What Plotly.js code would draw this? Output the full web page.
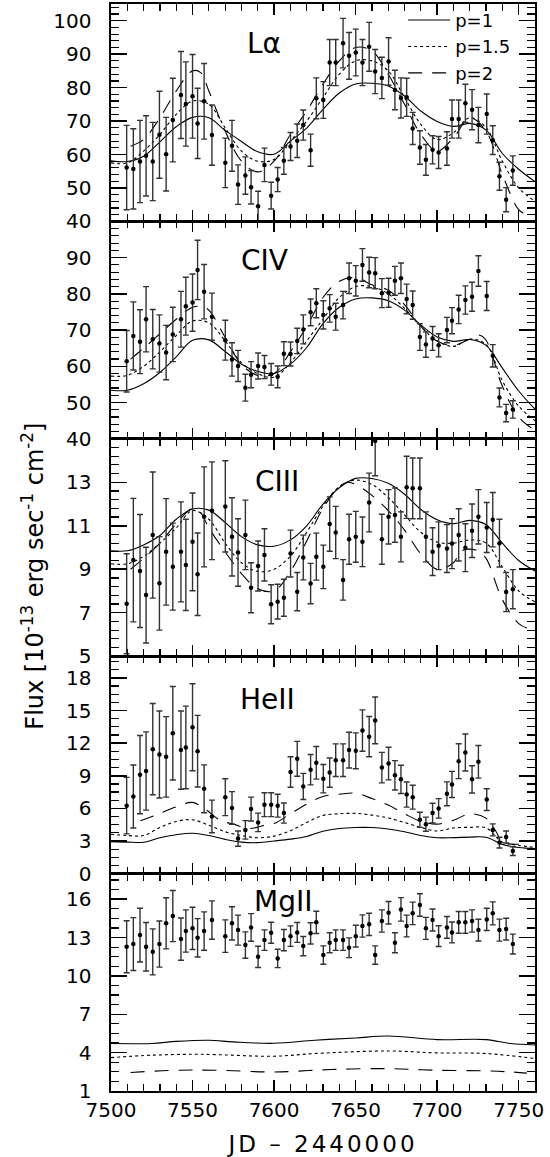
<!DOCTYPE html>
<html><head><meta charset="utf-8">
<script src="https://cdn.plot.ly/plotly-3.0.1.min.js"></script>
<style>body{margin:0;background:#fff} #chart text.x5title{letter-spacing:3px !important}</style>
</head><body><div id="chart" style="width:550px;height:1157px"></div>
<script>
// Observation dates (JD - 2440000)
const jd = [7509.6,7513.7,7517.8,7521.5,7525.6,7529.7,7533.8,7537.9,7542.9,7545.9,7550.0,7553.1,7557.1,7561.9,7570.1,7574.2,7577.9,7582.4,7585.9,7590.2,7594.1,7598.2,7602.2,7606.0,7610.1,7614.2,7617.9,7622.4,7625.9,7630.2,7634.1,7637.8,7642.3,7646.0,7650.1,7654.2,7658.3,7662.0,7666.1,7670.2,7674.1,7677.8,7681.3,7685.0,7689.4,7693.1,7697.2,7700.9,7706.0,7709.1,7713.2,7717.3,7721.4,7725.3,7730.4,7734.1,7738.2,7742.3,7746.4];

const lyaFlux = [56.1,55.7,57.9,59.6,57.9,65.9,60.1,70.3,77.8,75.1,77.4,69.3,75.9,65.8,57.5,62.6,51.0,53.7,50.2,44.5,56.9,47.7,52.5,58.1,62.4,64.1,68.8,61.3,76.8,76.3,87.5,87.5,93.3,89.5,90.5,87.5,92.2,84.8,82.9,87.8,79.3,76.9,77.1,67.8,62.1,58.4,61.4,60.6,61.8,70.6,70.6,75.3,73.4,68.8,72.1,64.3,53.5,46.5,55.2];
const lyaErr = [12.6,12.0,12.3,12.0,11.7,13.0,11.0,12.5,13.0,12.6,12.5,10.5,11.3,9.0,7.4,7.6,5.9,5.6,5.0,4.5,5.0,4.0,3.6,4.0,4.2,5.0,4.5,4.8,6.1,5.5,6.9,6.9,7.4,7.0,7.0,6.9,7.3,6.6,6.2,7.1,5.9,6.0,5.7,4.8,5.0,4.6,4.2,4.8,5.0,5.7,5.7,5.7,6.0,5.3,6.0,4.3,4.2,3.6,4.4];

const civFlux = [61.4,68.4,66.8,73.0,67.5,66.3,63.8,68.8,73.0,76.6,77.6,86.6,80.6,73.7,67.2,61.9,60.1,54.1,57.7,60.1,59.8,57.8,57.1,63.5,63.4,67.0,70.2,74.9,77.4,74.2,76.0,73.7,76.9,84.3,83.6,88.0,85.9,85.7,80.2,80.3,83.6,84.3,78.6,76.9,68.1,66.0,67.7,65.8,70.0,72.6,75.7,78.3,79.2,86.3,79.4,62.9,51.4,47.1,48.1];
const civErr = [8.5,9.4,8.8,9.0,8.2,7.9,7.5,7.5,7.7,8.0,7.9,8.2,7.5,6.5,5.5,4.6,4.3,3.7,3.6,3.6,3.2,3.0,3.0,3.3,3.3,3.5,4.0,3.7,4.0,3.9,3.8,3.7,3.8,4.2,4.2,4.5,4.2,4.3,4.0,4.0,4.0,4.2,4.1,3.9,3.7,3.5,3.3,3.2,3.5,3.6,3.9,3.9,4.0,4.2,4.0,3.1,2.6,2.4,2.4];

const ciiiFlux = [7.41,9.42,8.92,7.81,10.57,8.35,9.8,9.12,9.8,9.2,10.26,8.77,11.41,11.69,11.89,10.49,9.77,10.58,8.15,9.15,9.66,7.39,7.51,7.69,9.72,7.97,9.54,8.34,9.58,9.11,11.08,10.69,8.51,10.38,10.49,10.26,12.07,14.9,10.38,11.41,11.49,10.49,12.77,12.72,12.72,10.49,9.81,10.08,9.95,10.18,10.58,9.99,10.77,11.41,10.92,11.28,10.2,7.95,8.08];
const ciiiErr = [2.3,2.84,2.6,2.2,2.9,2.15,2.45,2.0,2.3,2.1,2.25,1.9,2.3,2.25,2.1,1.8,1.55,1.6,1.15,1.15,1.2,0.9,0.8,0.85,1.08,0.88,1.03,0.93,1.08,1.0,1.25,1.2,0.93,1.15,1.17,1.14,1.35,1.6,1.15,1.25,1.25,1.15,1.43,1.4,1.4,1.15,1.1,1.1,1.1,1.15,1.2,1.1,1.23,1.25,1.15,1.25,1.1,0.9,0.9];

const heiiFlux = [6.25,7.09,9.1,9.44,11.45,10.96,10.74,12.91,11.36,11.61,13.46,11.26,7.8,5.26,7.03,6.04,3.22,4.02,5.94,4.71,6.34,6.34,6.25,5.57,9.35,10.56,8.02,9.56,10.19,8.73,9.29,10.43,10.43,11.36,11.3,13.16,12.6,14.09,9.75,10.12,9.04,8.67,7.27,7.03,4.95,4.55,5.57,6.0,7.34,8.2,10.34,11.14,8.67,10.28,6.81,4.02,2.85,3.37,2.07];
const heiiErr = [2.6,2.9,3.6,3.6,4.2,4.0,3.7,4.3,3.6,3.8,4.0,3.3,2.2,1.5,1.7,1.5,0.7,0.85,1.1,0.85,1.1,1.1,1.05,0.93,1.4,1.6,1.2,1.4,1.5,1.3,1.35,1.5,1.5,1.65,1.65,1.9,1.85,2.15,1.4,1.5,1.35,1.3,1.15,1.1,0.7,0.65,0.9,0.9,1.1,1.2,1.6,1.7,1.25,1.5,1.0,0.55,0.5,0.55,0.4];

const mgiiFlux = [12.28,12.49,13.19,12.28,11.88,12.49,14.11,14.68,12.88,13.51,13.72,12.98,13.51,14.37,13.11,14.11,13.58,12.41,13.79,11.49,12.8,13.37,11.37,12.8,13.11,13.4,12.33,13.33,14.19,11.63,12.59,12.8,12.8,12.2,13.11,13.9,14.03,11.63,14.29,14.94,12.59,15.2,13.9,14.89,15.54,13.72,14.37,13.11,13.79,13.4,14.19,14.19,14.29,13.58,14.42,14.89,13.58,13.66,12.49];
const mgiiErr = [2.03,2.07,2.1,1.9,1.8,1.8,2.0,2.0,1.65,1.65,1.65,1.5,1.5,1.5,1.27,1.3,1.17,1.03,1.08,0.83,0.8,0.82,0.72,0.83,0.8,0.78,0.75,0.83,0.87,0.72,0.78,0.8,0.8,0.77,0.85,0.87,0.87,0.72,0.87,0.88,0.78,0.92,0.85,0.88,0.88,0.86,0.86,0.81,0.85,0.82,0.85,0.85,0.87,0.85,0.87,0.9,0.86,0.85,0.78];

// Model light curves
const modelJD = [7500,7510,7520,7530,7540,7550,7560,7570,7580,7590,7600,7610,7620,7630,7640,7650,7660,7670,7680,7690,7700,7710,7720,7730,7740,7750,7760];

const lyaP1  = [58.1,57.9,59.5,63.8,68.3,71.1,71.0,67.2,63.9,60.8,60.1,64.0,67.9,73.5,78.4,81.1,81.3,80.5,77.5,73.0,69.9,68.4,69.3,67.3,60.3,55.6,51.9];
const lyaP15 = [57.5,57.5,61,66,72,76,75,68,61,58,58.5,64,70,77,84,88,88,85,77,69,64.5,66.5,71,68,58,50,46];
const lyaP2x = [7512,7520,7530,7540,7550,7555,7560,7570,7580,7590,7600,7610,7620,7630,7640,7650,7660,7670,7680,7690,7700,7710,7720,7730,7740,7750,7755];
const lyaP2  = [62.5,64.5,71,79,85,84.5,79,67,58,54.8,58,66,73,81,88,92,91,84,75,66,61,65,71,67,54,43.5,42];

const civP1  = [53.4,53.4,55.2,58.3,62.6,67.2,67.3,64.1,60.6,58.6,58.0,60.6,65.2,71.8,76.3,78.6,78.9,78.1,75.5,71.4,68.1,66.9,67.4,65.8,59.5,53.2,48.2];
const civP15 = [57.3,57.5,60,64,68.5,72.5,72,67,61,58,57,61,67,73,79,82,82,80,76,71,67,65.5,67.5,66,56,49,45];
const civP2x = [7512,7520,7530,7540,7550,7556,7560,7570,7580,7590,7600,7610,7620,7630,7640,7650,7660,7670,7680,7690,7700,7710,7720,7726,7730,7740,7750,7760];
const civP2  = [62,65,69,73,76.3,76.5,75.5,68,60.5,57.5,58,64,71,79,83.5,84.5,82.5,81,77,71,67,65.8,67.5,68.6,67.2,54.5,46,42.3];

const ciiiP1  = [9.85,9.85,10.12,10.55,11.3,11.77,11.72,11.15,10.5,10.12,10.06,10.35,11.0,12.0,12.75,13.18,13.17,12.95,12.45,11.75,11.28,11.1,11.25,11.05,10.2,9.4,8.92];
const ciiiP15 = [9.25,9.25,9.6,10.2,10.9,11.7,11.3,10.2,9.3,8.9,9.0,9.6,10.7,11.9,12.8,13.1,12.9,12.3,11.5,10.7,10.25,10.2,10.35,10.2,9.1,8.0,7.5];
const ciiiP2x = [7512,7520,7530,7540,7550,7555,7560,7570,7580,7590,7600,7610,7620,7630,7640,7645,7650,7660,7670,7680,7690,7700,7710,7715,7725,7730,7740,7750,7755];
const ciiiP2  = [9.0,9.5,10.2,11.1,11.8,11.6,10.9,9.8,8.8,8.1,8.0,8.9,10.3,11.8,12.8,13.0,12.9,12.4,11.7,10.8,9.7,9.0,9.3,9.85,9.85,9.5,7.6,6.5,6.3];

const heiiP1  = [2.94,2.9,2.88,3.3,3.58,3.71,3.5,3.15,2.9,2.85,3.0,3.17,3.42,3.9,4.15,4.24,4.24,4.1,3.85,3.5,3.3,3.31,3.36,3.35,2.69,2.4,2.3];
const heiiP15 = [3.62,3.5,3.5,4.25,4.8,4.95,4.45,3.85,3.5,3.3,3.45,3.95,4.7,5.35,5.5,5.54,5.38,5.12,4.7,4.25,3.92,4.2,4.25,4.2,2.9,2.6,2.4];
const heiiP2x = [7518,7526,7540,7550,7558,7567,7575,7585,7593,7600,7610,7620,7630,7640,7650,7660,7670,7680,7690,7700,7710,7720,7730,7736,7740,7750];
const heiiP2  = [4.86,5.3,6.15,6.55,5.9,4.9,4.55,4.15,4.4,4.6,5.5,6.4,7.1,7.3,7.4,6.9,6.3,5.5,4.8,4.55,4.9,5.5,5.1,3.9,2.9,2.7];

const mgiiP1x = [7500,7525,7540,7560,7575,7600,7625,7650,7670,7700,7730,7745,7760];
const mgiiP1  = [4.71,4.72,4.88,4.97,4.84,4.73,4.97,5.15,5.3,5.02,5.02,4.71,4.6];
const mgiiP15x = [7500,7525,7555,7600,7625,7670,7700,7730,7760];
const mgiiP15  = [3.61,3.8,3.87,3.72,3.93,4.13,3.98,3.93,3.54];
const mgiiP2x = [7512,7540,7565,7600,7635,7670,7700,7730,7745,7755];
const mgiiP2  = [2.45,2.62,2.62,2.49,2.68,2.75,2.62,2.57,2.49,2.4];

// Panel setup
const lineNames = ['Lα','CIV','CIII','HeII','MgII'];
const yRanges = [[40,105],[40,100],[5,15],[0,20],[1,18]];
const yTicks = [[40,50,60,70,80,90,100],[40,50,60,70,80,90],[5,7,9,11,13],[0,3,6,9,12,15,18],[1,4,7,10,13,16]];
const yMinor = [2,2,0.4,0.75,0.75];
const fluxes = [lyaFlux,civFlux,ciiiFlux,heiiFlux,mgiiFlux];
const errs = [lyaErr,civErr,ciiiErr,heiiErr,mgiiErr];
const models = [
  [[modelJD,lyaP1],[modelJD,lyaP15],[lyaP2x,lyaP2]],
  [[modelJD,civP1],[modelJD,civP15],[civP2x,civP2]],
  [[modelJD,ciiiP1],[modelJD,ciiiP15],[ciiiP2x,ciiiP2]],
  [[modelJD,heiiP1],[modelJD,heiiP15],[heiiP2x,heiiP2]],
  [[mgiiP1x,mgiiP1],[mgiiP15x,mgiiP15],[mgiiP2x,mgiiP2]]
];
const modelNames = ['p=1','p=1.5','p=2'];
const dashes = ['solid','3px,3px','14px,10px'];

const FONT = 'DejaVu Sans, Arial, sans-serif';
const traces = [];
const layout = {
  width: 550, height: 1157,
  margin: {l: 111, r: 15, t: 4, b: 66, autoexpand: false},
  paper_bgcolor: '#fff', plot_bgcolor: '#fff',
  font: {family: FONT, color: '#000', size: 20},
  showlegend: true,
  legend: {x: 0.689, y: 1.002, xanchor: 'left', yanchor: 'top', bgcolor: 'rgba(0,0,0,0)',
           font: {size: 18, family: FONT}, itemwidth: 42, tracegroupgap: 0},
  annotations: []
};

const labelPos = [[0.361,0.964],[0.363,0.764],[0.392,0.561],[0.370,0.360],[0.406,0.174]];

for (let i = 0; i < 5; i++) {
  const n = i + 1;
  const xa = 'x' + n, ya = 'y' + n;
  for (let m = 0; m < 3; m++) {
    traces.push({
      x: models[i][m][0], y: models[i][m][1], xaxis: xa, yaxis: ya,
      mode: 'lines', type: 'scatter', name: modelNames[m],
      showlegend: i === 0, legendgroup: modelNames[m],
      line: {color: '#000', width: 1.1, dash: dashes[m], shape: 'spline', smoothing: 1},
      hoverinfo: 'skip'
    });
  }
  traces.push({
    x: jd, y: fluxes[i], xaxis: xa, yaxis: ya, mode: 'markers', type: 'scatter',
    showlegend: false,
    marker: {color: '#000', size: 4.5},
    error_y: {type: 'data', array: errs[i], visible: true, color: '#333', thickness: 1.4, width: 3}
  });
  const dom = [1 - n * 0.2, 1 - (n - 1) * 0.2];
  layout['xaxis' + n] = {
    domain: [0, 1], anchor: ya, range: [7500, 7760],
    matches: n === 5 ? undefined : 'x5',
    showline: true, linecolor: '#000', linewidth: 1.6, mirror: 'ticks',
    ticks: 'inside', ticklen: 11, tickwidth: 1.5, tickcolor: '#000',
    tick0: 7500, dtick: 50, showgrid: false, zeroline: false,
    minor: {ticks: 'inside', ticklen: 7, tickwidth: 1.2, tickcolor: '#000', dtick: 10, tick0: 7500, showgrid: false},
    showticklabels: n === 5,
    tickfont: {size: 20, family: FONT},
    title: n === 5 ? {text: 'JD – 2440000', font: {size: 23, family: FONT}, standoff: 17} : undefined
  };
  layout['yaxis' + n] = {
    domain: dom, anchor: xa, range: yRanges[i],
    showline: true, linecolor: '#000', linewidth: 1.6, mirror: 'ticks',
    ticks: 'inside', ticklen: 16, tickwidth: 1.5, tickcolor: '#000',
    tickmode: 'array', tickvals: yTicks[i], showgrid: false, zeroline: false,
    minor: {ticks: 'inside', ticklen: 8, tickwidth: 1.2, tickcolor: '#000', dtick: yMinor[i], tick0: yRanges[i][0], showgrid: false},
    tickfont: {size: 20, family: FONT}, ticklabelstandoff: 14
  };
  layout.annotations.push({
    text: lineNames[i], xref: 'paper', yref: 'paper', x: labelPos[i][0], y: labelPos[i][1],
    xanchor: 'center', yanchor: 'middle', showarrow: false, font: {size: 28, family: FONT, color: '#000'}
  });
}

layout.annotations.push({
  text: 'Flux [10<sup>-13</sup> erg sec<sup>-1</sup> cm<sup>-2</sup>]',
  xref: 'paper', yref: 'paper', x: -0.186, y: 0.4733, xanchor: 'center', yanchor: 'middle',
  textangle: -90, showarrow: false, font: {size: 24, family: FONT, color: '#000'}
});

Plotly.newPlot('chart', traces, layout, {displayModeBar: false, staticPlot: true});
</script>
</body></html>
